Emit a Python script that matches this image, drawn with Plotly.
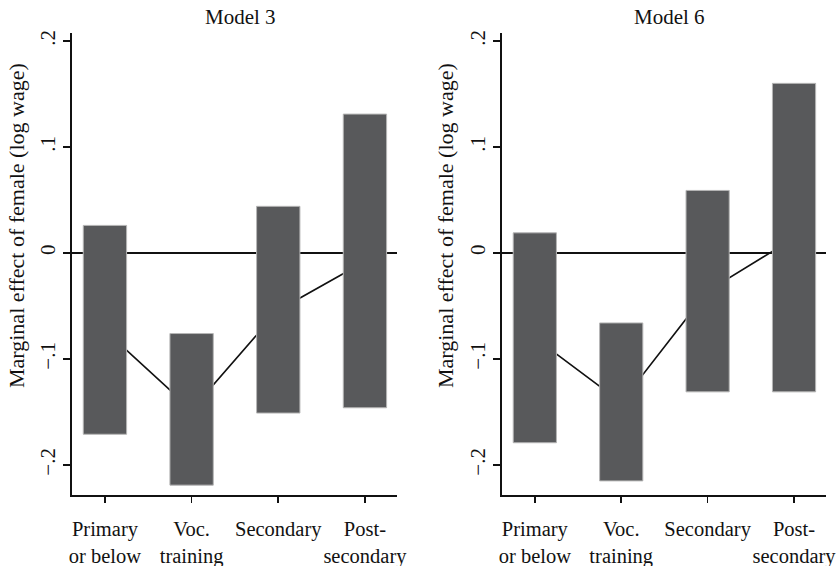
import plotly.graph_objects as go

categories = ["Primary<br>or below", "Voc.<br>training", "Secondary", "Post-<br>secondary"]
panel_titles = ["Model 3", "Model 6"]

m3_low = [-0.171, -0.219, -0.151, -0.146]
m3_high = [0.026, -0.076, 0.044, 0.131]
m3_est = [-0.073, -0.148, -0.054, -0.008]

m6_low = [-0.179, -0.215, -0.131, -0.131]
m6_high = [0.019, -0.066, 0.059, 0.160]
m6_est = [-0.080, -0.141, -0.036, 0.014]

ytick_vals = [-0.2, -0.1, 0, 0.1, 0.2]
ytick_text = ["\u2212.2", "\u2212.1", "0", ".1", ".2"]
ytitle = "Marginal effect of female (log wage)"

FONT = "Liberation Serif"
BAR_FILL = "#58595b"
BAR_EDGE = "#b5b5b5"

W, H = 840, 566


def px_x(p):
    return p / W


def px_y(p):
    return 1 - p / H


yrange = [-0.2283, 0.2075]
xrange = [-0.38, 3.37]

fig = go.Figure()

panels = [
    (m3_low, m3_high, m3_est, "", "3", [px_x(72), px_x(397)]),
    (m6_low, m6_high, m6_est, "2", "4", [px_x(502), px_x(826)]),
]

for low, high, est, base_id, over_id, dom in panels:
    fig.add_trace(go.Scatter(x=categories, y=est, mode="lines",
                             line=dict(color="#111111", width=1.6),
                             xaxis="x" + base_id, yaxis="y" + base_id,
                             showlegend=False, hoverinfo="skip"))
    fig.add_trace(go.Bar(x=categories, base=low, y=[h - l for h, l in zip(high, low)],
                         width=0.5, marker=dict(color=BAR_FILL, line=dict(color=BAR_EDGE, width=1)),
                         xaxis="x" + over_id, yaxis="y" + over_id,
                         showlegend=False, hoverinfo="skip"))

axis_common_x = dict(type="category", categoryorder="array", categoryarray=categories,
                     range=xrange, showline=True, linecolor="#111111", linewidth=1.6,
                     ticks="outside", ticklen=6, tickwidth=1.6, tickcolor="#111111",
                     tickangle=0, automargin=False, ticklabelstandoff=9,
                     showgrid=False, zeroline=False, fixedrange=True,
                     tickfont=dict(family=FONT, size=20.5, color="#111111"))
axis_common_y = dict(range=yrange, showline=True, linecolor="#111111", linewidth=1.6,
                     ticks="outside", ticklen=7, tickwidth=1.6, tickcolor="#111111",
                     tickvals=ytick_vals, ticktext=ytick_text, tickangle=-90, automargin=False,
                     showgrid=False, zeroline=True, zerolinecolor="#111111", zerolinewidth=1.6,
                     fixedrange=True,
                     tickfont=dict(family=FONT, size=21, color="#111111"))

ydom = [px_y(495), px_y(33)]
fig.update_layout(
    xaxis=dict(domain=panels[0][5], anchor="y", **axis_common_x),
    yaxis=dict(domain=ydom, anchor="x", **axis_common_y),
    xaxis2=dict(domain=panels[1][5], anchor="y2", **axis_common_x),
    yaxis2=dict(domain=ydom, anchor="x2", **axis_common_y),
    xaxis3=dict(overlaying="x", range=xrange, type="category", categoryorder="array",
                categoryarray=categories, visible=False, fixedrange=True),
    yaxis3=dict(overlaying="y", range=yrange, visible=False, fixedrange=True),
    xaxis4=dict(overlaying="x2", range=xrange, type="category", categoryorder="array",
                categoryarray=categories, visible=False, fixedrange=True),
    yaxis4=dict(overlaying="y2", range=yrange, visible=False, fixedrange=True),
)

annotations = []
for t, cx in zip(panel_titles, [240, 669]):
    annotations.append(dict(text=t, x=px_x(cx), y=px_y(17), xref="paper", yref="paper",
                            xanchor="center", yanchor="middle", showarrow=False,
                            font=dict(family=FONT, size=21, color="#111111")))
for cx in [17, 446]:
    annotations.append(dict(text=ytitle, x=px_x(cx), y=px_y(226), xref="paper", yref="paper",
                            xanchor="center", yanchor="middle", showarrow=False, textangle=-90,
                            font=dict(family=FONT, size=22, color="#111111")))

fig.update_layout(width=W, height=H, margin=dict(l=0, r=0, t=0, b=0, autoexpand=False),
                  paper_bgcolor="white", plot_bgcolor="white",
                  annotations=annotations, barmode="overlay")

fig.write_html("out.html", config={"displayModeBar": False, "staticPlot": True},
               post_script="document.body.style.margin='0';document.body.style.overflow='hidden';")
